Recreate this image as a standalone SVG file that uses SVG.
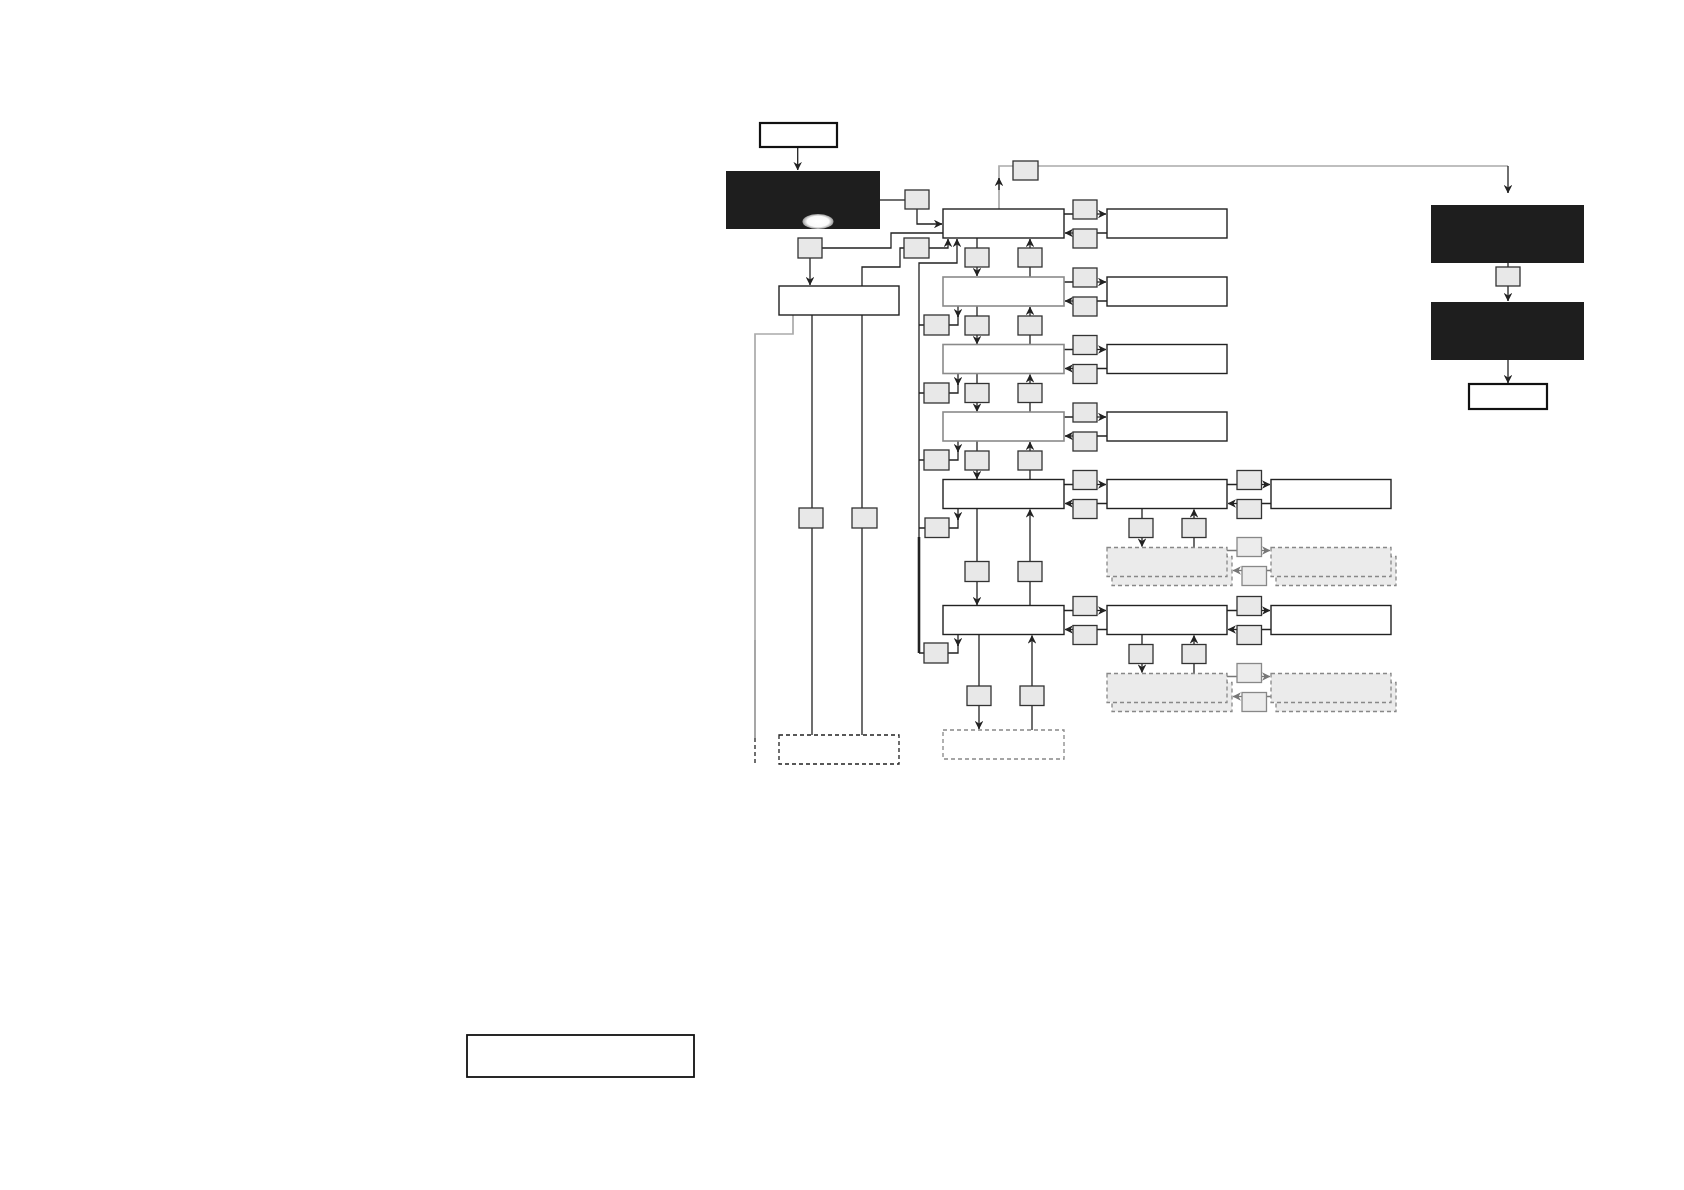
<svg xmlns="http://www.w3.org/2000/svg" width="1684" height="1190" viewBox="0 0 1684 1190">
<style>
.ln{fill:none;stroke:#222;stroke-width:1.3}
.lm{fill:none;stroke:#777;stroke-width:1.3}
.lg{fill:none;stroke:#aaa;stroke-width:1.7}
.box{fill:#fff;stroke:#222;stroke-width:1.4}
.boxg{fill:#fff;stroke:#8a8a8a;stroke-width:1.6}
.bold{fill:#fff;stroke:#111;stroke-width:2.2}
.sb{fill:#e8e8e8;stroke:#333;stroke-width:1.3}
.sbg{fill:#ececec;stroke:#888;stroke-width:1.3}
.dsh{fill:#ebebeb;stroke:#888;stroke-width:1.3;stroke-dasharray:4 3}
.dshw{fill:#fff;stroke:#222;stroke-width:1.3;stroke-dasharray:4 3}
.dshg{fill:#fff;stroke:#888;stroke-width:1.3;stroke-dasharray:4 3}
.blk{fill:#1e1e1e}
</style>
<defs>
<marker id="a" viewBox="0 0 10 10" refX="9.5" refY="5" markerWidth="8.5" markerHeight="8.5" markerUnits="userSpaceOnUse" orient="auto"><path d="M0,0 L10,5 L0,10 L3,5 z" fill="#222"/></marker>
<marker id="ag" viewBox="0 0 10 10" refX="9.5" refY="5" markerWidth="8.5" markerHeight="8.5" markerUnits="userSpaceOnUse" orient="auto"><path d="M0,0 L10,5 L0,10 L3,5 z" fill="#777"/></marker>
<radialGradient id="glow" cx="0.5" cy="0.5" r="0.5"><stop offset="0" stop-color="#fff"/><stop offset="0.7" stop-color="#fafafa"/><stop offset="1" stop-color="#999"/></radialGradient>
</defs>
<rect width="1684" height="1190" fill="#fff"/>

<g id="connectors">
<path class="ln" d="M797.7,147 V170" marker-end="url(#a)"/>
<path class="ln" d="M880,200 H905"/>
<path class="ln" d="M917,209 V224 H942" marker-end="url(#a)"/>
<path class="ln" d="M822,248 H891 V233 H943"/>
<path class="ln" d="M810,258 V285" marker-end="url(#a)"/>
<path class="ln" d="M929,248 H948 V239" marker-end="url(#a)"/>
<path class="ln" d="M904,248 H900 V267 H862 V286"/>
<path class="ln" d="M919,653 V263 H957 V239" marker-end="url(#a)"/>
<path class="ln" d="M919,537 V653" style="stroke-width:2.6"/>
<path class="lg" d="M793,315 V334 H755 V640"/>
<path class="lm" d="M755,640 V738"/>
<path class="ln" d="M755,738 V764" style="stroke-dasharray:4 3"/>
<path class="ln" d="M812,315 V508 M812,528 V735 M862,315 V508 M862,528 V735"/>
<path class="lg" d="M999,209 V178 M999,178 V166 H1013 M1038,166 H1508"/>
<path class="ln" d="M999,190 V178" marker-end="url(#a)"/>
<path class="ln" d="M1508,166 V193" marker-end="url(#a)"/>
<path class="ln" d="M1508,263 V267"/>
<path class="ln" d="M1508,286 V301" marker-end="url(#a)"/>
<path class="ln" d="M1508,360 V383" marker-end="url(#a)"/>
<!-- main to col2 -->
<path class="ln" d="M1064,214 H1073 M1064,282 H1073 M1064,349.5 H1073 M1064,417 H1073 M1064,484.5 H1073 M1064,610.5 H1073"/>
<path class="ln" d="M1097,214 H1106" marker-end="url(#a)"/>
<path class="ln" d="M1097,282 H1106" marker-end="url(#a)"/>
<path class="ln" d="M1097,349.5 H1106" marker-end="url(#a)"/>
<path class="ln" d="M1097,417 H1106" marker-end="url(#a)"/>
<path class="ln" d="M1097,484.5 H1106" marker-end="url(#a)"/>
<path class="ln" d="M1097,610.5 H1106" marker-end="url(#a)"/>
<path class="ln" d="M1107,233 H1097 M1107,301 H1097 M1107,368.5 H1097 M1107,436 H1097 M1107,503.5 H1097 M1107,629.5 H1097"/>
<path class="ln" d="M1073,233 H1065" marker-end="url(#a)"/>
<path class="ln" d="M1073,301 H1065" marker-end="url(#a)"/>
<path class="ln" d="M1073,368.5 H1065" marker-end="url(#a)"/>
<path class="ln" d="M1073,436 H1065" marker-end="url(#a)"/>
<path class="ln" d="M1073,503.5 H1065" marker-end="url(#a)"/>
<path class="ln" d="M1073,629.5 H1065" marker-end="url(#a)"/>
<!-- col2 to col3 -->
<path class="ln" d="M1227,484.5 H1237 M1227,610.5 H1237 M1271,503.5 H1262 M1271,629.5 H1262"/>
<path class="ln" d="M1262,484.5 H1270" marker-end="url(#a)"/>
<path class="ln" d="M1262,610.5 H1270" marker-end="url(#a)"/>
<path class="ln" d="M1237,503.5 H1228" marker-end="url(#a)"/>
<path class="ln" d="M1237,629.5 H1228" marker-end="url(#a)"/>
<!-- under col2 -->
<path class="ln" d="M1142,508.5 V518.5 M1142,634.5 V644.5 M1194,547.5 V537.5 M1194,673.5 V663.5"/>
<path class="ln" d="M1142,537.5 V546.5" marker-end="url(#a)"/>
<path class="ln" d="M1142,663.5 V672.5" marker-end="url(#a)"/>
<path class="ln" d="M1194,518.5 V509.5" marker-end="url(#a)"/>
<path class="ln" d="M1194,644.5 V635.5" marker-end="url(#a)"/>
<!-- gray stacked -->
<path class="lm" d="M1227,550.5 H1237 M1227,676.5 H1237 M1271,570.5 H1267 M1271,696.5 H1267"/>
<path class="lm" d="M1262,550.5 H1270" marker-end="url(#ag)"/>
<path class="lm" d="M1262,676.5 H1270" marker-end="url(#ag)"/>
<path class="lm" d="M1242,570.5 H1233" marker-end="url(#ag)"/>
<path class="lm" d="M1242,696.5 H1233" marker-end="url(#ag)"/>
<!-- main column verticals -->
<path class="ln" d="M977,238 V248 M977,306 V316 M977,373.5 V383.5 M977,441 V451 M977,508.5 V561.5"/>
<path class="ln" d="M977,267 V276" marker-end="url(#a)"/>
<path class="ln" d="M977,335 V344" marker-end="url(#a)"/>
<path class="ln" d="M977,402.5 V411.5" marker-end="url(#a)"/>
<path class="ln" d="M977,470 V479" marker-end="url(#a)"/>
<path class="ln" d="M977,581.5 V605" marker-end="url(#a)"/>
<path class="ln" d="M1030,277 V267 M1030,344.5 V335 M1030,412 V402.5 M1030,479.5 V470 M1030,605.5 V581.5"/>
<path class="ln" d="M1030,248 V239" marker-end="url(#a)"/>
<path class="ln" d="M1030,316 V307" marker-end="url(#a)"/>
<path class="ln" d="M1030,383.5 V374.5" marker-end="url(#a)"/>
<path class="ln" d="M1030,451 V442" marker-end="url(#a)"/>
<path class="ln" d="M1030,561.5 V509.5" marker-end="url(#a)"/>
<path class="ln" d="M979,634.5 V686 M1032,730 V705.5"/>
<path class="ln" d="M979,705.5 V729" marker-end="url(#a)"/>
<path class="ln" d="M1032,686 V635.5" marker-end="url(#a)"/>
<!-- left boxes to bus -->
<path class="ln" d="M919,325 H924 M919,393 H924 M919,460 H924 M919,528 H925 M919,653 H924"/>
<path class="ln" d="M958,306 V317" marker-end="url(#a)"/>
<path class="ln" d="M958,373.5 V385" marker-end="url(#a)"/>
<path class="ln" d="M958,441 V452" marker-end="url(#a)"/>
<path class="ln" d="M958,508.5 V520" marker-end="url(#a)"/>
<path class="ln" d="M958,634.5 V646" marker-end="url(#a)"/>
<path class="ln" d="M958,316 V325 H949 M958,384 V393 H949 M958,451 V460 H949 M958,519 V528 H949 M958,645 V653 H948"/>
</g>

<g id="n-start"><rect class="bold" x="760" y="123" width="77" height="24"/></g>
<g id="n-black1"><rect class="blk" x="726" y="171" width="154" height="58"/><ellipse cx="818" cy="221.5" rx="15.5" ry="7.5" fill="url(#glow)"/></g>
<g id="n-s1"><rect class="sb" x="905" y="190" width="24" height="19"/></g>
<g id="n-s2"><rect class="sb" x="798" y="238" width="24" height="20"/></g>
<g id="n-s3"><rect class="sb" x="904" y="238" width="25" height="20"/></g>
<g id="n-sub"><rect class="box" x="779" y="286" width="120" height="29"/></g>
<g id="n-s4"><rect class="sb" x="799" y="508" width="24" height="20"/></g>
<g id="n-s5"><rect class="sb" x="852" y="508" width="25" height="20"/></g>
<g id="n-subend"><rect class="dshw" x="779" y="735" width="120" height="29"/></g>

<g id="n-top"><rect class="sb" x="1013" y="161" width="25" height="19"/></g>
<g id="n-black2"><rect class="blk" x="1431" y="205" width="153" height="58"/></g>
<g id="n-s-right"><rect class="sb" x="1496" y="267" width="24" height="19"/></g>
<g id="n-black3"><rect class="blk" x="1431" y="302" width="153" height="58"/></g>
<g id="n-end"><rect class="bold" x="1469" y="384" width="78" height="25"/></g>

<g id="n-m1"><rect class="box" x="943" y="209" width="121" height="29"/></g>
<g id="n-m2"><rect class="boxg" x="943" y="277" width="121" height="29"/></g>
<g id="n-m3"><rect class="boxg" x="943" y="344.5" width="121" height="29"/></g>
<g id="n-m4"><rect class="boxg" x="943" y="412" width="121" height="29"/></g>
<g id="n-m5"><rect class="box" x="943" y="479.5" width="121" height="29"/></g>
<g id="n-m6"><rect class="box" x="943" y="605.5" width="121" height="29"/></g>
<g id="n-mend"><rect class="dshg" x="943" y="730" width="121" height="29"/></g>

<g id="n-r1"><rect class="box" x="1107" y="209" width="120" height="29"/></g>
<g id="n-r2"><rect class="box" x="1107" y="277" width="120" height="29"/></g>
<g id="n-r3"><rect class="box" x="1107" y="344.5" width="120" height="29"/></g>
<g id="n-r4"><rect class="box" x="1107" y="412" width="120" height="29"/></g>
<g id="n-r5"><rect class="box" x="1107" y="479.5" width="120" height="29"/></g>
<g id="n-r6"><rect class="box" x="1107" y="605.5" width="120" height="29"/></g>
<g id="n-c5"><rect class="box" x="1271" y="479.5" width="120" height="29"/></g>
<g id="n-c6"><rect class="box" x="1271" y="605.5" width="120" height="29"/></g>

<g id="n-d5a"><rect class="dsh" x="1112" y="556.5" width="120" height="29"/><rect class="dsh" x="1107" y="547.5" width="120" height="29"/></g>
<g id="n-d5b"><rect class="dsh" x="1276" y="556.5" width="120" height="29"/><rect class="dsh" x="1271" y="547.5" width="120" height="29"/></g>
<g id="n-d6a"><rect class="dsh" x="1112" y="682.5" width="120" height="29"/><rect class="dsh" x="1107" y="673.5" width="120" height="29"/></g>
<g id="n-d6b"><rect class="dsh" x="1276" y="682.5" width="120" height="29"/><rect class="dsh" x="1271" y="673.5" width="120" height="29"/></g>

<g id="n-small-right">
<rect class="sb" x="1073" y="200" width="24" height="19"/><rect class="sb" x="1073" y="229" width="24" height="19"/>
<rect class="sb" x="1073" y="268" width="24" height="19"/><rect class="sb" x="1073" y="297" width="24" height="19"/>
<rect class="sb" x="1073" y="335.5" width="24" height="19"/><rect class="sb" x="1073" y="364.5" width="24" height="19"/>
<rect class="sb" x="1073" y="403" width="24" height="19"/><rect class="sb" x="1073" y="432" width="24" height="19"/>
<rect class="sb" x="1073" y="470.5" width="24" height="19"/><rect class="sb" x="1073" y="499.5" width="24" height="19"/>
<rect class="sb" x="1073" y="596.5" width="24" height="19"/><rect class="sb" x="1073" y="625.5" width="24" height="19"/>
<rect class="sb" x="1237" y="470.5" width="24.5" height="19"/><rect class="sb" x="1237" y="499.5" width="24.5" height="19"/>
<rect class="sb" x="1237" y="596.5" width="24.5" height="19"/><rect class="sb" x="1237" y="625.5" width="24.5" height="19"/>
<rect class="sb" x="1129" y="518.5" width="24" height="19"/><rect class="sb" x="1182" y="518.5" width="24" height="19"/>
<rect class="sb" x="1129" y="644.5" width="24" height="19"/><rect class="sb" x="1182" y="644.5" width="24" height="19"/>
<rect class="sbg" x="1237" y="537.5" width="24.5" height="19"/><rect class="sbg" x="1242" y="566.5" width="24.5" height="19"/>
<rect class="sbg" x="1237" y="663.5" width="24.5" height="19"/><rect class="sbg" x="1242" y="692.5" width="24.5" height="19"/>
</g>

<g id="n-small-main">
<rect class="sb" x="965" y="248" width="24" height="19"/><rect class="sb" x="1018" y="248" width="24" height="19"/>
<rect class="sb" x="965" y="316" width="24" height="19"/><rect class="sb" x="1018" y="316" width="24" height="19"/>
<rect class="sb" x="965" y="383.5" width="24" height="19"/><rect class="sb" x="1018" y="383.5" width="24" height="19"/>
<rect class="sb" x="965" y="451" width="24" height="19"/><rect class="sb" x="1018" y="451" width="24" height="19"/>
<rect class="sb" x="965" y="561.5" width="24" height="20"/><rect class="sb" x="1018" y="561.5" width="24" height="20"/>
<rect class="sb" x="967" y="686" width="24" height="19.5"/><rect class="sb" x="1020" y="686" width="24" height="19.5"/>
</g>

<g id="n-small-left">
<rect class="sb" x="924" y="315" width="25" height="20"/>
<rect class="sb" x="924" y="383" width="25" height="20"/>
<rect class="sb" x="924" y="450" width="25" height="20"/>
<rect class="sb" x="925" y="518" width="24" height="19.5"/>
<rect class="sb" x="924" y="643" width="24" height="20"/>
</g>

<g id="n-legend"><rect fill="#fff" stroke="#111" stroke-width="1.8" x="467" y="1035" width="227" height="42"/></g>
</svg>
